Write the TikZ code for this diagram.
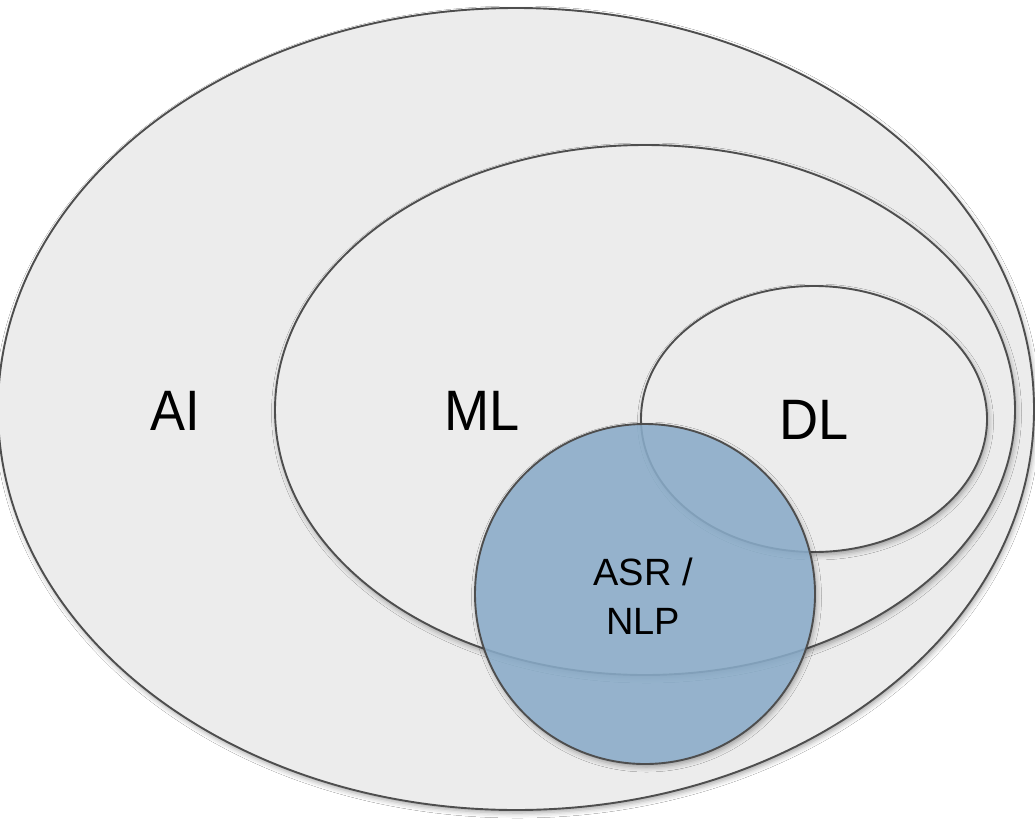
\documentclass[tikz,border=0pt]{standalone}
\usepackage{fontspec}
\setmainfont{Liberation Sans}
\usetikzlibrary{shadows.blur}
\definecolor{setfill}{RGB}{236,236,236}
\definecolor{setline}{RGB}{78,78,78}
\definecolor{asrfill}{RGB}{137,171,200}
\tikzset{
  softshadow/.style={blur shadow={shadow xshift=1.5pt, shadow yshift=-3pt, shadow blur radius=5pt, shadow opacity=35}},
  setshape/.style={draw=setline, line width=1.9pt, fill=setfill, softshadow},
  asrshape/.style={draw=setline, line width=1.9pt, fill=asrfill, fill opacity=0.88},
  biglabel/.style={font=\fontsize{57}{66}\selectfont, text=black, inner sep=0pt},
  smalllabel/.style={font=\fontsize{38}{49}\selectfont, text=black, align=center, inner sep=0pt}
}
\begin{document}
\begin{tikzpicture}[x=1pt, y=-1pt]
\useasboundingbox (0,0) rectangle (1035,819);
\fill[white] (0,0) rectangle (1035,819);
\begin{scope}
\clip (0,0) rectangle (1035,819);
\draw[setshape] (516,409) ellipse [x radius=518, y radius=401];
\draw[setshape] (645,410) ellipse [x radius=370, y radius=265];
\draw[setshape] (814,419) ellipse [x radius=173, y radius=133];
% shadow of the ASR circle, only outside the circle
\begin{scope}[even odd rule]
\clip (0,0) rectangle (1035,819) (645,594) circle [radius=170];
\path[fill=setfill, softshadow] (645,594) circle [radius=170];
\end{scope}
\draw[asrshape] (645,594) circle [radius=170];
\end{scope}
\node[biglabel] (ai) at (175,411) {\scalebox{0.92}[1]{AI}};
\node[biglabel] (ml) at (482,411) {\scalebox{0.95}[1]{ML}};
\node[biglabel] (dl) at (814,420) {\scalebox{0.95}[1]{DL}};
\node[smalllabel] (asr) at (643,596) {ASR /\\NLP};
\end{tikzpicture}
\end{document}
